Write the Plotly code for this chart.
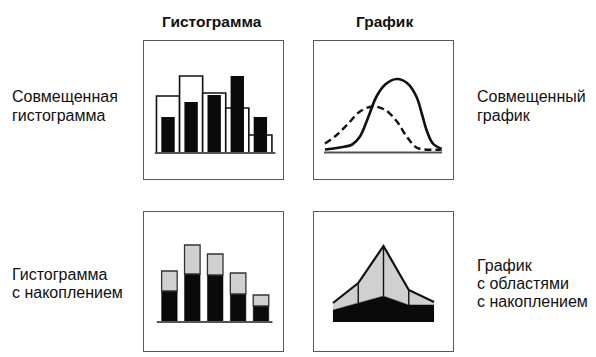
import plotly.graph_objects as go

# page body has an 8px default margin; figure fills the rest of the 596x357 view
OFF = 8
W, H = 596 - OFF, 357 - OFF

# ---- data ----
bar_cats = [0, 1, 2, 3, 4]
overlay_white = [57, 77, 60, 45, 18]
overlay_black = [36, 51, 58, 77, 36]

stack_black = [31, 48, 47, 28, 16]
stack_gray = [20, 29, 21, 21, 11]

solid_x = [0, 1.5, 2.8, 3.6, 4.4, 5.3, 6.2, 7.4, 8.5, 9.4, 10.0, 10.5, 11.1, 12]
solid_y = [3, 5, 8, 16, 34, 56, 68, 73.5, 69, 56, 37.5, 21, 9, 3.5]
dash_x = [0, 1.2, 2.4, 3.6, 4.9, 6.2, 7.4, 8.4, 9.4, 10.2, 12]
dash_y = [9, 17.5, 29, 41, 46, 42.5, 31, 16, 5, 3, 3]

area_x = [0, 1, 2, 3, 4]
area_black = [12, 19, 26, 17, 17]
area_gray = [7, 20, 50, 15, 3]

col_title = "Гистограмма"
row_title = "График"
labels_left = [["Совмещенная", "гистограмма"], ["Гистограмма", "с накоплением"]]
labels_right = [["Совмещенный", "график"], ["График", "с областями", "с накоплением"]]

# ---- layout helpers (page pixel -> paper fraction) ----
def fx(p):
    return (p - OFF) / W

def fy(p):
    return 1 - (p - OFF) / H

def px_x(a, b):
    return [fx(a), fx(b)]

def px_y(top, bottom):
    return [fy(bottom), fy(top)]

fig = go.Figure()

# Top-left: overlaid histogram
fig.add_trace(go.Bar(x=bar_cats, y=overlay_white, width=1.0,
                     marker=dict(color="white", line=dict(color="#111", width=1.6)),
                     xaxis="x", yaxis="y"))
fig.add_trace(go.Bar(x=bar_cats, y=overlay_black, width=0.58,
                     marker=dict(color="#0a0a0a", line=dict(width=0)),
                     xaxis="x", yaxis="y"))

# Top-right: overlaid curves
fig.add_trace(go.Scatter(x=dash_x, y=dash_y, mode="lines",
                         line=dict(color="#111", width=2.4, dash="7px,4px", shape="spline"),
                         xaxis="x2", yaxis="y2"))
fig.add_trace(go.Scatter(x=solid_x, y=solid_y, mode="lines",
                         line=dict(color="#111", width=2.6, shape="spline"),
                         xaxis="x2", yaxis="y2"))

# Bottom-left: stacked histogram
fig.add_trace(go.Bar(x=bar_cats, y=stack_black, width=0.68,
                     marker=dict(color="#0a0a0a", line=dict(color="#0a0a0a", width=0.5)),
                     xaxis="x3", yaxis="y3"))
fig.add_trace(go.Bar(x=bar_cats, y=stack_gray, base=stack_black, width=0.68,
                     marker=dict(color="#d0d0d0", line=dict(color="#333", width=1.3)),
                     xaxis="x3", yaxis="y3"))

# Bottom-right: stacked area
area_total = [b + g for b, g in zip(area_black, area_gray)]
fig.add_trace(go.Scatter(x=area_x, y=area_black, mode="lines", fill="tozeroy",
                         fillcolor="#0a0a0a", line=dict(color="#0a0a0a", width=0.5),
                         xaxis="x4", yaxis="y4"))
fig.add_trace(go.Scatter(x=area_x, y=area_total, mode="lines", fill="tonexty",
                         fillcolor="#d0d0d0", line=dict(color="#111", width=2.2),
                         xaxis="x4", yaxis="y4"))
vx, vy = [], []
for i in range(1, len(area_x) - 1):
    vx += [area_x[i], area_x[i], None]
    vy += [area_black[i], area_total[i], None]
fig.add_trace(go.Scatter(x=vx, y=vy, mode="lines", line=dict(color="#111", width=1.4),
                         xaxis="x4", yaxis="y4"))

axis_common = dict(showgrid=False, zeroline=False, showticklabels=False, ticks="",
                   showline=True, mirror=True, linecolor="#5a5a5a", linewidth=1.4,
                   fixedrange=True)

fig.update_layout(
    width=W, height=H, margin=dict(l=0, r=0, t=0, b=0),
    paper_bgcolor="white", plot_bgcolor="white",
    showlegend=False, barmode="overlay", hovermode=False,
    xaxis=dict(domain=px_x(144, 283), range=[-1.04, 4.98], anchor="y", **axis_common),
    yaxis=dict(domain=px_y(41, 179), range=[-26, 112], anchor="x", **axis_common),
    xaxis2=dict(domain=px_x(314, 453), range=[-1.13, 13.17], anchor="y2", **axis_common),
    yaxis2=dict(domain=px_y(41, 179), range=[-26.5, 111.5], anchor="x2", **axis_common),
    xaxis3=dict(domain=px_x(144, 283), range=[-1.11, 4.96], anchor="y3", **axis_common),
    yaxis3=dict(domain=px_y(212, 351), range=[-29, 110], anchor="x3", **axis_common),
    xaxis4=dict(domain=px_x(314, 453), range=[-0.75, 4.75], anchor="y4", **axis_common),
    yaxis4=dict(domain=px_y(212, 351), range=[-29, 110], anchor="x4", **axis_common),
)

# baselines
base_style = dict(color="#555", width=2)
fig.add_shape(type="line", xref="x", yref="y", x0=-0.57, x1=4.65, y0=0, y1=0, line=base_style)
fig.add_shape(type="line", xref="x2", yref="y2", x0=-0.1, x1=12.05, y0=0, y1=0, line=base_style)
fig.add_shape(type="line", xref="x3", yref="y3", x0=-0.55, x1=4.5, y0=0, y1=0, line=base_style)

font_reg = dict(family="Liberation Sans, Arial, sans-serif", size=16, color="#111")
font_bold = dict(family="Liberation Sans, Arial, sans-serif", size=15.5, color="#111")

fig.add_annotation(text="<b>" + col_title + "</b>", x=fx(212), y=fy(21), xref="paper", yref="paper",
                   showarrow=False, xanchor="center", yanchor="middle", font=font_bold)
fig.add_annotation(text="<b>" + row_title + "</b>", x=fx(384), y=fy(21), xref="paper", yref="paper",
                   showarrow=False, xanchor="center", yanchor="middle", font=font_bold)

def add_lines(lines, x_px, y0_px, step=18):
    for i, t in enumerate(lines):
        fig.add_annotation(text=t, x=fx(x_px), y=fy(y0_px + i * step), xref="paper", yref="paper",
                           showarrow=False, xanchor="left", yanchor="middle", font=font_reg)

add_lines(labels_left[0], 10, 97)
add_lines(labels_left[1], 10, 274)
add_lines(labels_right[0], 475, 97)
add_lines(labels_right[1], 475, 265)

fig.write_html("out.html")
